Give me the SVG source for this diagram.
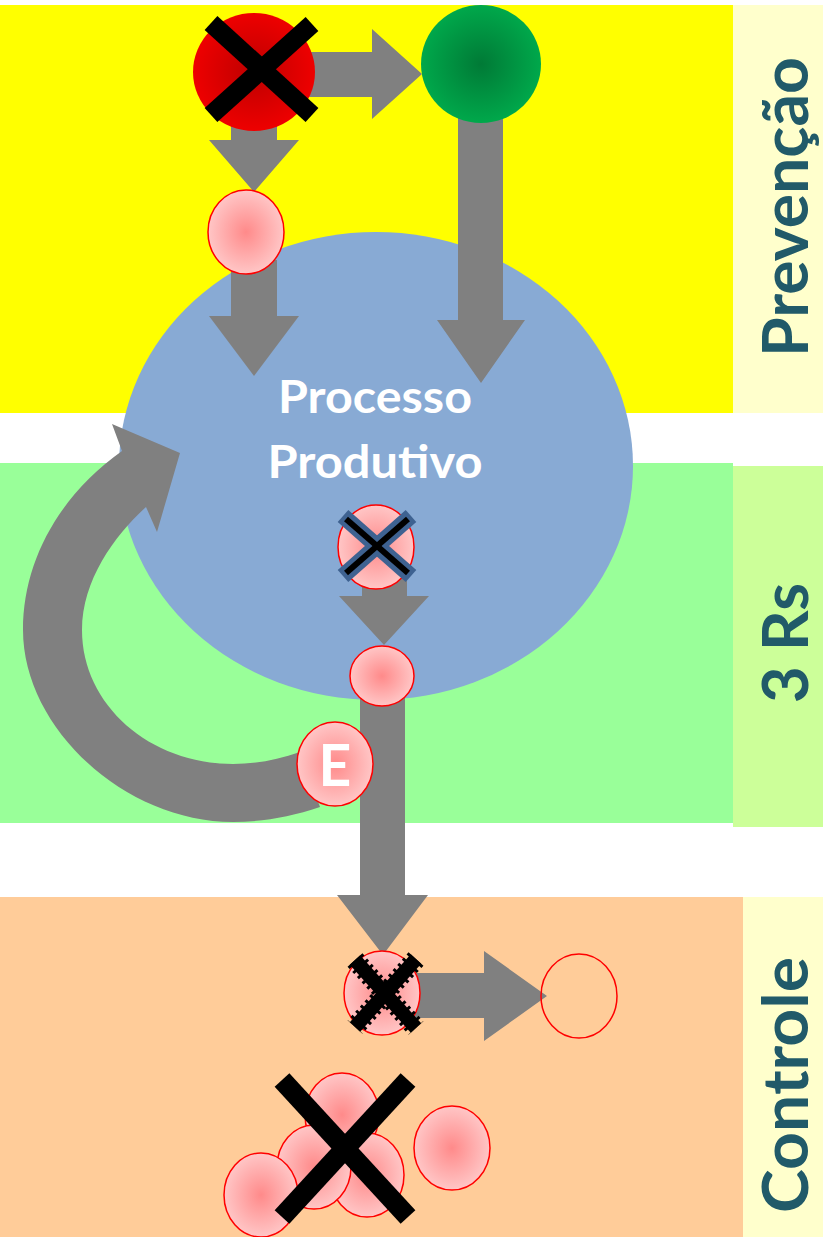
<svg xmlns="http://www.w3.org/2000/svg" width="823" height="1237" viewBox="0 0 823 1237">
  <defs>
    <radialGradient id="gPink" cx="50%" cy="50%" r="50%">
      <stop offset="0" stop-color="#FF8A8A"/>
      <stop offset="1" stop-color="#FFC6C6"/>
    </radialGradient>
    <radialGradient id="gRed" cx="50%" cy="50%" r="50%">
      <stop offset="0" stop-color="#BE0000"/>
      <stop offset="1" stop-color="#EE0000"/>
    </radialGradient>
    <radialGradient id="gGreen" cx="50%" cy="50%" r="50%">
      <stop offset="0" stop-color="#007A36"/>
      <stop offset="1" stop-color="#00A84B"/>
    </radialGradient>
  </defs>
  <style>
    .arrow { fill: #808080; stroke: none; }
    .pink { fill: url(#gPink); stroke: #FF0000; stroke-width: 1.5; }
    .band-label { font-family: Lato, "Open Sans", "Liberation Sans", sans-serif; font-weight: bold; font-size: 64px; fill: #215A69; text-anchor: middle; }
    .white-text { font-family: Lato, "Open Sans", "Liberation Sans", sans-serif; font-weight: bold; fill: #FFFFFF; text-anchor: middle; }
    .cross { stroke: #000000; stroke-linecap: butt; fill: none; }
  </style>

  <!-- bands -->
  <g id="bands">
    <rect x="0" y="0" width="823" height="1237" fill="#FFFFFF"/>
    <rect x="0" y="5" width="733" height="408" fill="#FFFF00"/>
    <rect x="733" y="5" width="90" height="408" fill="#FFFFCC"/>
    <rect x="0" y="463" width="733" height="360" fill="#99FF99"/>
    <rect x="733" y="466" width="90" height="361" fill="#CCFF99"/>
    <rect x="0" y="897" width="743" height="340" fill="#FFCC99"/>
    <rect x="743" y="897" width="80" height="340" fill="#FFFFCC"/>
  </g>

  <!-- band titles -->
  <g id="labels">
    <text class="band-label" transform="translate(808,207) rotate(-90)" textLength="300" lengthAdjust="spacingAndGlyphs">Prevenção</text>
    <text class="band-label" transform="translate(808,643) rotate(-90)" textLength="120" lengthAdjust="spacingAndGlyphs">3 Rs</text>
    <text class="band-label" transform="translate(808,1085) rotate(-90)" textLength="256" lengthAdjust="spacingAndGlyphs">Controle</text>
  </g>

  <!-- production process -->
  <g id="processo">
    <ellipse cx="376" cy="466" rx="257" ry="234" fill="#88AAD4"/>
    <text class="white-text" x="375" y="413" font-size="46" textLength="194" lengthAdjust="spacingAndGlyphs">Processo</text>
    <text class="white-text" x="375" y="478" font-size="46" textLength="215" lengthAdjust="spacingAndGlyphs">Produtivo</text>
  </g>

  <!-- connectors -->
  <g id="connectors">
    <polygon class="arrow" points="300,52 372,52 372,29 422,74 372,119 372,97 300,97"/>
    <polygon class="arrow" points="231,120 277,120 277,140 299,140 254,192 209,140 231,140"/>
    <polygon class="arrow" points="231,260 277,260 277,316 299,316 254,376 209,316 231,316"/>
    <polygon class="arrow" points="458,110 503,110 503,320 525,320 481,383 437,320 458,320"/>
    <polygon class="arrow" points="362,570 407,570 407,596 429,596 384,645 339,596 362,596"/>
    <polygon class="arrow" points="360,690 405,690 405,895 428,895 383,955 337,895 360,895"/>
    <polygon class="arrow" points="405,973 484,973 484,951 547,996 484,1041 484,1018 405,1018"/>
    <!-- return loop from E back into the process -->
    <path class="arrow" d="M320,807 C290,817 262,822 233,822 C125,822 23,728 23,630 C23,560 60,495 122,451 L112,424 L180,453 L157,532 L146,507 C115,535 82,580 82,630 C82,705 150,764 233,764 C255,764 277,760 300,752 Z"/>
  </g>

  <!-- nodes -->
  <g id="materia-prima-eliminada">
    <ellipse cx="254" cy="72" rx="61" ry="59" fill="url(#gRed)"/>
    <line class="cross" x1="211" y1="23" x2="312" y2="115" stroke-width="19"/>
    <line class="cross" x1="312" y1="24" x2="211" y2="115" stroke-width="19"/>
  </g>

  <g id="materia-prima-substituta">
    <ellipse cx="481" cy="64" rx="60" ry="59" fill="url(#gGreen)"/>
  </g>

  <g id="residuo-entrada">
    <ellipse class="pink" cx="246" cy="232" rx="38" ry="42"/>
  </g>

  <g id="residuo-evitado">
    <ellipse class="pink" cx="376" cy="547" rx="38" ry="42"/>
    <line x1="343" y1="516" x2="411" y2="576" stroke="#3E6291" stroke-width="16"/>
    <line x1="411" y1="516" x2="343" y2="576" stroke="#3E6291" stroke-width="16"/>
    <line x1="346" y1="519" x2="408" y2="573" stroke="#000000" stroke-width="6"/>
    <line x1="408" y1="519" x2="346" y2="573" stroke="#000000" stroke-width="6"/>
  </g>

  <g id="residuo-gerado">
    <ellipse class="pink" cx="382" cy="676" rx="32" ry="30"/>
  </g>

  <g id="residuo-e">
    <ellipse class="pink" cx="335" cy="764" rx="38" ry="42"/>
    <text class="white-text" x="335" y="786" font-size="57">E</text>
  </g>

  <g id="residuo-tratado">
    <ellipse class="pink" cx="382" cy="993" rx="38" ry="42"/>
    <g stroke="#000000" fill="none">
      <line x1="355" y1="960" x2="416" y2="1028" stroke-width="14"/>
      <line x1="416" y1="959" x2="355" y2="1027" stroke-width="14"/>
      <line x1="355" y1="960" x2="416" y2="1028" stroke-width="20" stroke-dasharray="3 4"/>
      <line x1="416" y1="959" x2="355" y2="1027" stroke-width="20" stroke-dasharray="3 4"/>
    </g>
  </g>

  <g id="residuo-final">
    <ellipse cx="579" cy="996" rx="38" ry="42" fill="none" stroke="#FF0000" stroke-width="1.5"/>
  </g>

  <g id="residuos-dispostos">
    <ellipse class="pink" cx="342" cy="1115" rx="37" ry="42"/>
    <ellipse class="pink" cx="367" cy="1175" rx="37" ry="42"/>
    <ellipse class="pink" cx="314" cy="1167" rx="37" ry="42"/>
    <ellipse class="pink" cx="261" cy="1195" rx="37" ry="42"/>
    <ellipse class="pink" cx="452" cy="1148" rx="38" ry="42"/>
    <line class="cross" x1="282" y1="1080" x2="408" y2="1217" stroke-width="20"/>
    <line class="cross" x1="408" y1="1080" x2="282" y2="1217" stroke-width="20"/>
  </g>
</svg>
